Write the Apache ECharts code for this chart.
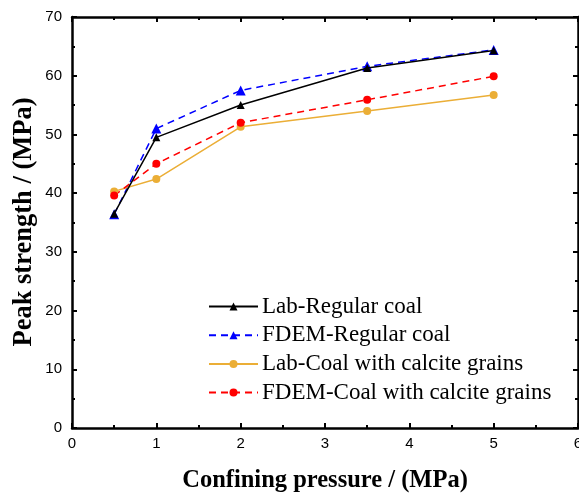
<!DOCTYPE html>
<html>
<head>
<meta charset="utf-8">
<script src="https://cdn.jsdelivr.net/npm/echarts@6/dist/echarts.min.js"></script>
<style>
  html, body { margin: 0; padding: 0; background: #fff; }
  #chart { width: 579px; height: 494px; }
</style>
</head>
<body>
<div id="chart"></div>
<script>
// Confining pressure (MPa)
const pressures = [0.5, 1, 2, 3.5, 5];

// Peak strength (MPa) per case
const labRegular = [36.5, 49.5, 55.0, 61.3, 64.3];
const fdemRegular = [36.4, 51.0, 57.5, 61.6, 64.4];
const labCalcite = [40.3, 42.4, 51.3, 54.0, 56.7];
const fdemCalcite = [39.6, 45.0, 52.0, 55.9, 59.9];

const seriesNames = [
  'Lab-Regular coal',
  'FDEM-Regular coal',
  'Lab-Coal with calcite grains',
  'FDEM-Coal with calcite grains'
];

const yTitle = 'Peak strength / (MPa)';
const xTitle = 'Confining pressure / (MPa)';

const pair = (ys) => pressures.map((x, i) => [x, ys[i]]);

// Framed axis: thick black line with inward major and minor ticks
function frameAxis(extra) {
  return Object.assign({
    type: 'value',
    axisLine: { show: true, onZero: false, lineStyle: { color: '#000', width: 2.5 } },
    axisTick: { show: true, inside: true, length: 5, lineStyle: { color: '#000', width: 2 } },
    minorTick: { show: true, splitNumber: 2, length: 3, lineStyle: { color: '#000', width: 2 } },
    splitLine: { show: false },
    minorSplitLine: { show: false }
  }, extra);
}

const titleFont = { fontFamily: 'Liberation Serif', fontWeight: 'bold', color: '#000' };
const tickFont = { fontFamily: 'Liberation Sans', fontSize: 15, color: '#000' };

const chart = echarts.init(document.getElementById('chart'), null, { renderer: 'canvas' });

chart.setOption({
  animation: false,
  backgroundColor: '#fff',
  grid: { left: 72, right: 1, top: 17, bottom: 66, containLabel: false, outerBoundsMode: 'none' },
  xAxis: [
    frameAxis({
      min: 0, max: 6, interval: 1,
      position: 'bottom',
      name: xTitle,
      nameLocation: 'middle',
      nameGap: 40,
      nameTextStyle: Object.assign({ fontSize: 24.5 }, titleFont),
      axisLabel: Object.assign({ margin: 8 }, tickFont)
    }),
    frameAxis({ min: 0, max: 6, interval: 1, position: 'top', axisLabel: { show: false } })
  ],
  yAxis: [
    frameAxis({
      min: 0, max: 70, interval: 10,
      position: 'left',
      axisLabel: Object.assign({ margin: 10 }, tickFont)
    }),
    frameAxis({ min: 0, max: 70, interval: 10, position: 'right', axisLabel: { show: false } })
  ],
  // Vertical axis title, rotated to read bottom-to-top
  graphic: [{
    type: 'text',
    x: 24,
    y: 222,
    rotation: Math.PI / 2,
    style: {
      text: yTitle,
      fontFamily: 'Liberation Serif',
      fontWeight: 'bold',
      fontSize: 26.5,
      fill: '#000',
      align: 'center',
      verticalAlign: 'middle'
    }
  }],
  legend: {
    orient: 'vertical',
    left: 203,
    top: 290,
    itemWidth: 49,
    itemHeight: 10,
    itemGap: 5.7,
    textStyle: { fontFamily: 'Liberation Serif', fontSize: 23, color: '#000', padding: [0, 0, 0, -1] },
    data: seriesNames
  },
  series: [
    {
      name: seriesNames[0], type: 'line', data: pair(labRegular),
      symbol: 'triangle', symbolSize: 8,
      lineStyle: { color: '#000', width: 1.5, type: 'solid' },
      itemStyle: { color: '#000' }, z: 3
    },
    {
      name: seriesNames[1], type: 'line', data: pair(fdemRegular),
      symbol: 'triangle', symbolSize: 10,
      lineStyle: { color: '#0000ff', width: 1.5, type: [7, 5] },
      itemStyle: { color: '#0000ff' }, z: 2
    },
    {
      name: seriesNames[2], type: 'line', data: pair(labCalcite),
      symbol: 'circle', symbolSize: 8,
      lineStyle: { color: '#ebae36', width: 1.5, type: 'solid' },
      itemStyle: { color: '#ebae36' }, z: 2
    },
    {
      name: seriesNames[3], type: 'line', data: pair(fdemCalcite),
      symbol: 'circle', symbolSize: 8,
      lineStyle: { color: '#ff0000', width: 1.5, type: [7, 5] },
      itemStyle: { color: '#ff0000' }, z: 2
    }
  ]
});
</script>
</body>
</html>
